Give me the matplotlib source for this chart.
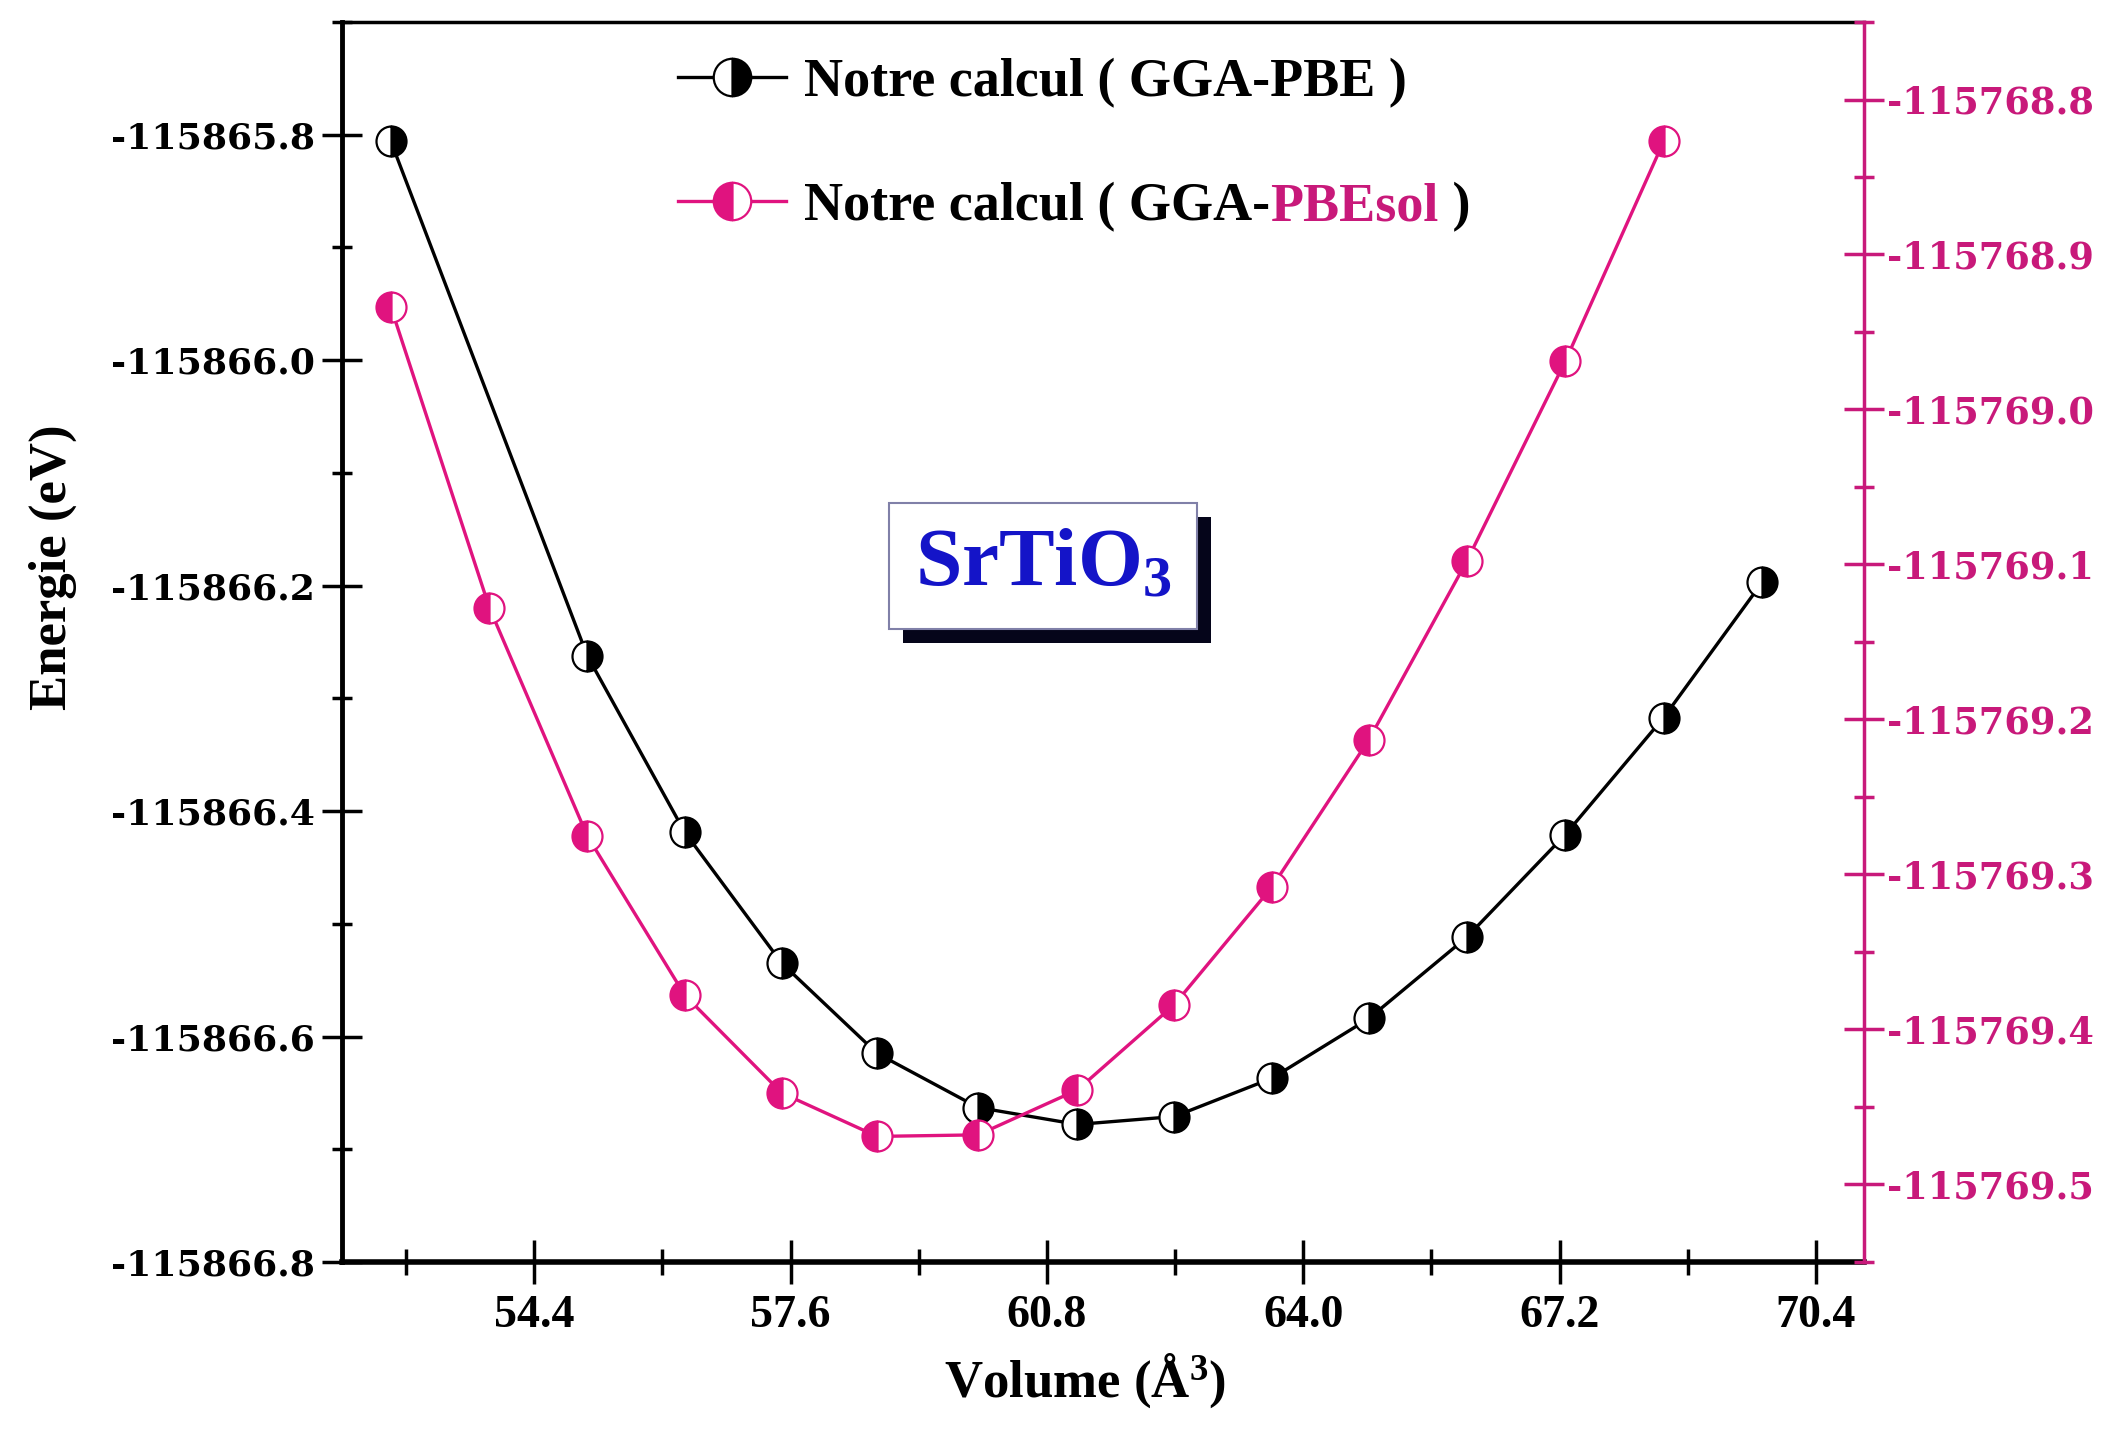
import matplotlib
matplotlib.use("Agg")
import matplotlib.pyplot as plt
import matplotlib.patheffects as pe
from matplotlib.ticker import MultipleLocator, FormatStrFormatter
import numpy as np

# données
vol_pbe = [52.61, 55.06, 56.28, 57.49, 58.68, 59.94, 61.18, 62.39, 63.61,
           64.82, 66.04, 67.27, 68.50, 69.73]
e_pbe = [-115865.806, -115866.262, -115866.419, -115866.535, -115866.615,
         -115866.663, -115866.678, -115866.671, -115866.637, -115866.584,
         -115866.512, -115866.421, -115866.317, -115866.197]

vol_sol = [52.61, 53.84, 55.06, 56.28, 57.49, 58.68, 59.94, 61.18, 62.39,
           63.61, 64.82, 66.04, 67.27, 68.50]
e_sol = [-115768.934, -115769.128, -115769.275, -115769.378, -115769.441,
         -115769.469, -115769.468, -115769.439, -115769.384, -115769.308,
         -115769.213, -115769.098, -115768.969, -115768.827]

label_pbe = "Notre calcul ( GGA-PBE )"
label_sol = "Notre calcul ( GGA-"

pink = "#E0137F"
pink_axis = "#C8197A"

plt.rcParams['font.family'] = ['Liberation Serif', 'DejaVu Serif']
plt.rcParams['font.weight'] = 'bold'
plt.rcParams['axes.labelweight'] = 'bold'
plt.rcParams['mathtext.fontset'] = 'custom'
plt.rcParams['mathtext.rm'] = 'Liberation Serif:bold'
plt.rcParams['mathtext.bf'] = 'Liberation Serif:bold'
plt.rcParams['mathtext.it'] = 'Liberation Serif:italic:bold'

fig = plt.figure(figsize=(21.05, 14.29), dpi=100)
ax = fig.add_axes([0.1625, 0.1169, 0.723, 0.8677])
ax2 = ax.twinx()

l1, = ax.plot(vol_pbe, e_pbe, '-', color='black', lw=2.4, marker='o', ms=21.6,
              fillstyle='right', markerfacecolor='black', markerfacecoloralt='white',
              markeredgecolor='black', markeredgewidth=1.6)
l2, = ax2.plot(vol_sol, e_sol, '-', color=pink, lw=2.4, marker='o', ms=21.6,
               fillstyle='left', markerfacecolor=pink, markerfacecoloralt='white',
               markeredgecolor=pink, markeredgewidth=1.6)

ax.set_xlim(52, 71)
ax.set_ylim(-115866.8, -115865.70)
ax2.set_ylim(-115769.55, -115768.75)

ax.xaxis.set_major_locator(MultipleLocator(3.2))
ax.xaxis.set_minor_locator(MultipleLocator(1.6))
ax.xaxis.set_major_formatter(FormatStrFormatter('%.1f'))
ax.yaxis.set_major_locator(MultipleLocator(0.2))
ax.yaxis.set_minor_locator(MultipleLocator(0.1))
ax.yaxis.set_major_formatter(FormatStrFormatter('%.1f'))
ax2.yaxis.set_major_locator(MultipleLocator(0.1))
ax2.yaxis.set_minor_locator(MultipleLocator(0.05))
ax2.yaxis.set_major_formatter(FormatStrFormatter('%.1f'))

# spines
ax.spines['left'].set_linewidth(3.5)
ax.spines['bottom'].set_linewidth(4)
ax.spines['top'].set_linewidth(2.5)
ax.spines['right'].set_visible(False)
for s in ['left', 'top', 'bottom']:
    ax2.spines[s].set_visible(False)
ax2.spines['right'].set_color(pink_axis)
ax2.spines['right'].set_linewidth(2.5)

ax.tick_params(axis='x', which='major', direction='inout', length=32, width=2.5,
               labelsize=33, pad=8, top=False)
ax.tick_params(axis='x', which='minor', direction='inout', length=19, width=2.5, top=False)
ax.tick_params(axis='y', which='major', direction='inout', length=29, width=2.5,
               labelsize=26, pad=5, labelfontfamily='DejaVu Serif', right=False)
ax.tick_params(axis='y', which='minor', direction='inout', length=15, width=2.5, right=False)
ax2.tick_params(axis='y', which='major', direction='inout', length=29, width=2.5,
                labelsize=26.5, pad=2, colors=pink_axis, labelfontfamily='DejaVu Serif')
ax2.tick_params(axis='y', which='minor', direction='inout', length=15, width=2.5,
                colors=pink_axis)

ax.set_xlabel(r'Volume (Å$^{\mathbf{3}}$)', fontsize=38)
ax.xaxis.set_label_coords(0.488, -0.072)
ax.set_ylabel('Energie (eV)', fontsize=38)
ax.yaxis.set_label_coords(-0.174, 0.5605)

leg = ax2.legend([l1, l2], [label_pbe, label_sol], loc='upper left',
                 bbox_to_anchor=(0.2208, 0.971), frameon=False, handlelength=2.0,
                 handletextpad=0.33, labelspacing=1.37, borderpad=0,
                 borderaxespad=0, markerscale=1.25,
                 prop={'family': 'Liberation Serif', 'weight': 'bold', 'size': 39})
leg.set_zorder(5)
t_sol = leg.get_texts()[1]
a1 = ax2.annotate("PBEsol", xy=(1, 0), xycoords=t_sol, ha='left', va='bottom',
                  fontsize=39, color=pink_axis, zorder=6)
ax2.annotate(" )", xy=(1, 0), xycoords=a1, ha='left', va='bottom',
             fontsize=39, color='black', zorder=7)

txt = ax2.text(0.4606, 0.5613, r'SrTiO$_{\mathbf{3}}$', transform=ax.transAxes,
               ha='center', va='center', fontsize=60, color='#1414C8', zorder=8,
               bbox=dict(boxstyle='square,pad=0.31', fc='white', ec='#8080A8', lw=1.5))
txt.get_bbox_patch().set_path_effects([
    pe.SimplePatchShadow(offset=(10, -10), shadow_rgbFace='#05051A', alpha=1),
    pe.Normal()])

fig.savefig('out.png', dpi=100)
